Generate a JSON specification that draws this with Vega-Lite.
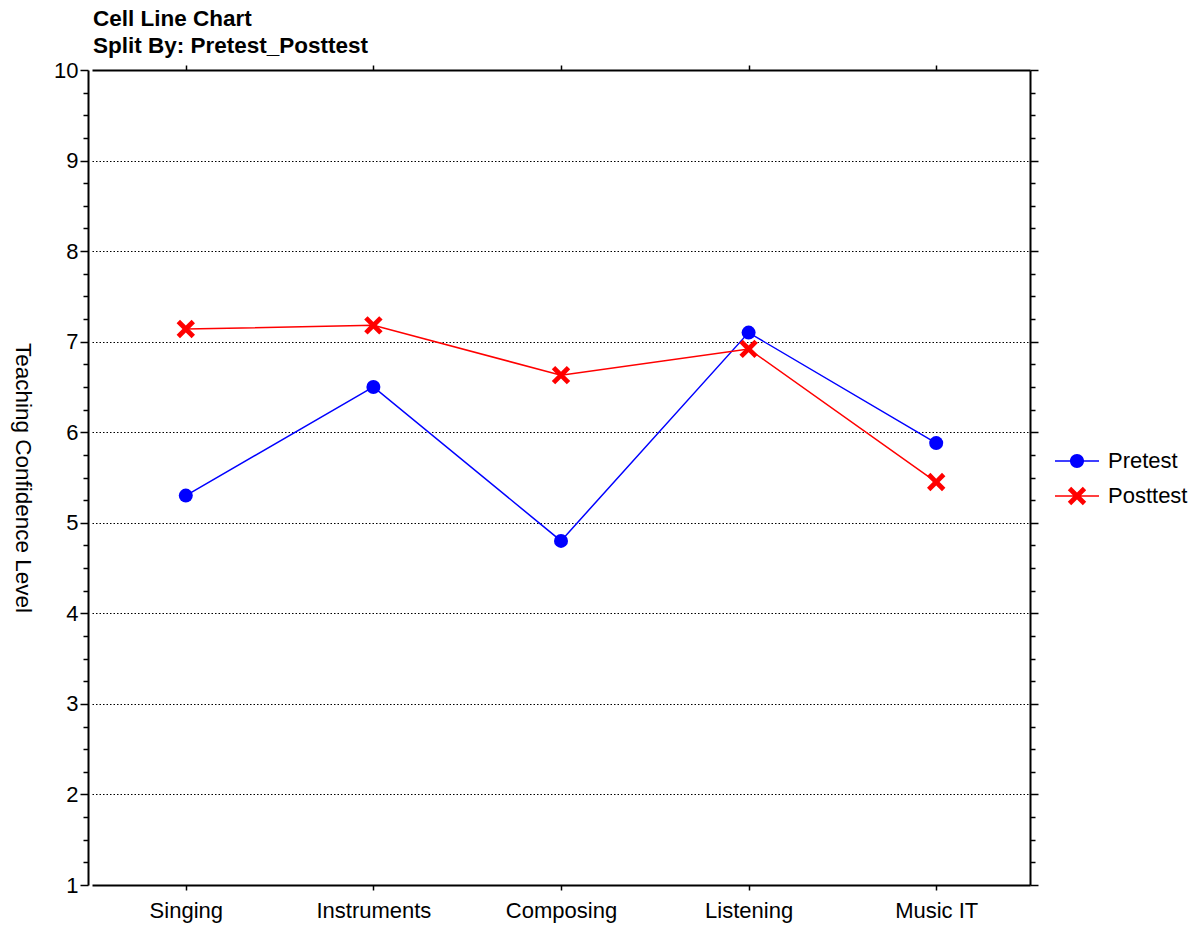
{
  "$schema": "https://vega.github.io/schema/vega-lite/v6.json",
  "autosize": "none",
  "width": 942,
  "height": 815,
  "padding": {"left": 88, "top": 70, "right": 172, "bottom": 40},
  "background": "white",
  "config": {
    "font": "Liberation Sans",
    "view": {"stroke": null},
    "axis": {"labelFont": "Liberation Sans", "titleFont": "Liberation Sans", "labelColor": "black", "titleColor": "black", "domainColor": "black", "tickColor": "black"}
  },
  "title": {
    "text": ["Cell Line Chart", "Split By: Pretest_Posttest"],
    "anchor": "start",
    "frame": "group",
    "dx": 5,
    "fontSize": 22.5,
    "fontWeight": "bold",
    "font": "Liberation Sans",
    "lineHeight": 27,
    "offset": 2,
    "color": "black"
  },
  "data": {
    "values": [
      {"activity": "Singing", "test": "Pretest", "value": 5.3},
      {"activity": "Instruments", "test": "Pretest", "value": 6.5},
      {"activity": "Composing", "test": "Pretest", "value": 4.8},
      {"activity": "Listening", "test": "Pretest", "value": 7.1},
      {"activity": "Music IT", "test": "Pretest", "value": 5.88},
      {"activity": "Singing", "test": "Posttest", "value": 7.14},
      {"activity": "Instruments", "test": "Posttest", "value": 7.18},
      {"activity": "Composing", "test": "Posttest", "value": 6.63},
      {"activity": "Listening", "test": "Posttest", "value": 6.92},
      {"activity": "Music IT", "test": "Posttest", "value": 5.45}
    ]
  },
  "resolve": {"axis": {"x": "independent", "y": "independent"}},
  "layer": [
    {
      "mark": {"type": "line", "strokeWidth": 1.5},
      "encoding": {
        "x": {
          "field": "activity", "type": "nominal",
          "sort": ["Singing", "Instruments", "Composing", "Listening", "Music IT"],
          "scale": {"type": "point", "padding": 0.5, "range": [4, 942]},
          "axis": {"orient": "bottom", "title": null, "labelAngle": 0, "labelFontSize": 22, "labelPadding": 10, "tickSize": 5, "tickWidth": 1.5, "domainWidth": 2, "grid": false}
        },
        "y": {
          "field": "value", "type": "quantitative",
          "scale": {"domain": [1, 10], "nice": false, "zero": false},
          "axis": {
            "orient": "left",
            "title": "Teaching Confidence Level",
            "titleAngle": 90,
            "titleFontSize": 22.5,
            "titleFontWeight": "normal",
            "titlePadding": 43,
            "values": [1,1.25,1.5,1.75,2,2.25,2.5,2.75,3,3.25,3.5,3.75,4,4.25,4.5,4.75,5,5.25,5.5,5.75,6,6.25,6.5,6.75,7,7.25,7.5,7.75,8,8.25,8.5,8.75,9,9.25,9.5,9.75,10],
            "labelExpr": "datum.value % 1 === 0 ? format(datum.value, 'd') : ''",
            "labelFontSize": 22,
            "labelPadding": 2,
            "tickSize": {"condition": {"test": "datum.value % 1 === 0", "value": 8}, "value": 5},
            "tickWidth": 1.5,
            "domainWidth": 2,
            "grid": true,
            "gridColor": "black",
            "gridDash": [1.5, 2],
            "gridWidth": 1,
            "gridOpacity": {"condition": {"test": "datum.value % 1 === 0 && datum.value > 1 && datum.value < 10", "value": 1}, "value": 0}
          }
        },
        "color": {
          "field": "test", "type": "nominal",
          "scale": {"domain": ["Pretest", "Posttest"], "range": ["#0000ff", "#ff0000"]},
          "legend": {
            "title": null,
            "orient": "none",
            "legendX": 978,
            "legendY": 380,
            "labelFontSize": 22,
            "labelFont": "Liberation Sans",
            "labelColor": "black",
            "rowPadding": 13,
            "symbolSize": 400,
            "labelOffset": 20,
            "encode": {
              "symbols": {
                "update": {
                  "shape": {"signal": "datum.value === 'Pretest' ? 'M-2.2,-0.075L2.2,-0.075L2.2,0.075L-2.2,0.075ZM0.7,0A0.7,0.7,0,1,1,-0.7,0A0.7,0.7,0,1,1,0.7,0Z' : 'M-2.2,-0.075L2.2,-0.075L2.2,0.075L-2.2,0.075ZM0,-0.339L0.58,-0.92L0.92,-0.58L0.339,0L0.92,0.58L0.58,0.92L0,0.339L-0.58,0.92L-0.92,0.58L-0.339,0L-0.92,-0.58L-0.58,-0.92Z'"},
                  "fill": {"signal": "datum.value === 'Pretest' ? '#0000ff' : '#ff0000'"},
                  "stroke": {"value": "transparent"},
                  "strokeWidth": {"value": 0},
                  "fillOpacity": {"value": 1}
                }
              }
            }
          }
        }
      }
    },
    {
      "transform": [{"filter": "datum.test === 'Pretest'"}],
      "mark": {"type": "point", "filled": true, "opacity": 1, "size": 196, "strokeWidth": 0, "shape": "circle", "color": "#0000ff"},
      "encoding": {
        "x": {
          "field": "activity", "type": "nominal",
          "sort": ["Singing", "Instruments", "Composing", "Listening", "Music IT"],
          "axis": {"orient": "top", "title": null, "labels": false, "tickSize": 5, "tickWidth": 1.5, "domainWidth": 2, "grid": false}
        },
        "y": {
          "field": "value", "type": "quantitative",
          "axis": {
            "orient": "right",
            "title": null,
            "labels": false,
            "values": [1,1.25,1.5,1.75,2,2.25,2.5,2.75,3,3.25,3.5,3.75,4,4.25,4.5,4.75,5,5.25,5.5,5.75,6,6.25,6.5,6.75,7,7.25,7.5,7.75,8,8.25,8.5,8.75,9,9.25,9.5,9.75,10],
            "tickSize": {"condition": {"test": "datum.value % 1 === 0", "value": 8}, "value": 5},
            "tickWidth": 1.5,
            "domainWidth": 2,
            "grid": false
          }
        }
      }
    },
    {
      "transform": [{"filter": "datum.test === 'Posttest'"}],
      "mark": {"type": "point", "filled": true, "opacity": 1, "size": 400, "strokeWidth": 0, "shape": "M0,-0.339L0.58,-0.92L0.92,-0.58L0.339,0L0.92,0.58L0.58,0.92L0,0.339L-0.58,0.92L-0.92,0.58L-0.339,0L-0.92,-0.58L-0.58,-0.92Z", "color": "#ff0000"},
      "encoding": {
        "x": {
          "field": "activity", "type": "nominal",
          "sort": ["Singing", "Instruments", "Composing", "Listening", "Music IT"],
          "axis": null
        },
        "y": {"field": "value", "type": "quantitative", "axis": null}
      }
    }
  ]
}
